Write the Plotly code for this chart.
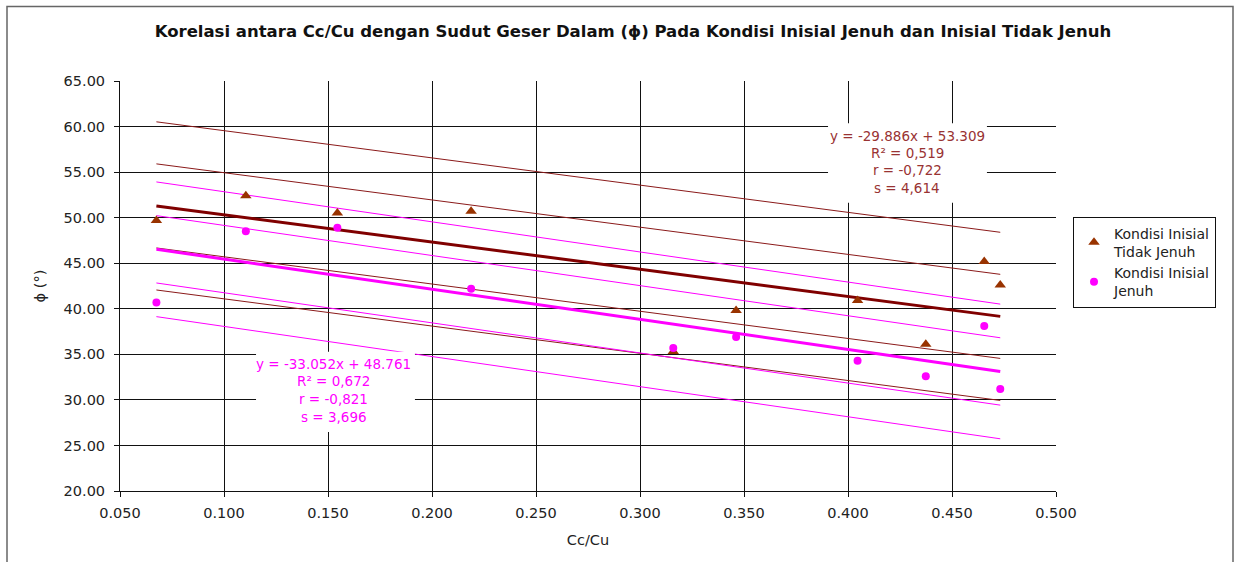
import plotly.graph_objects as go

# Cc/Cu values of the tested samples
cc_cu = [0.0675, 0.1105, 0.1545, 0.2188, 0.3160, 0.3462, 0.4046, 0.4374, 0.4655, 0.4732]

# Internal friction angle (degrees) for each initial condition
phi_tidak_jenuh = [49.7, 52.4, 50.5, 50.7, 35.3, 39.8, 40.9, 36.1, 45.2, 42.6]
phi_jenuh = [40.7, 48.5, 48.9, 42.2, 35.7, 36.9, 34.3, 32.6, 38.1, 31.2]

# Regression results: slope, intercept, R², r, standard error
fit_tidak_jenuh = dict(a=-29.886, b=53.309, r2="0,519", r="-0,722", s=4.614, s_txt="4,614")
fit_jenuh = dict(a=-33.052, b=48.761, r2="0,672", r="-0,821", s=3.696, s_txt="3,696")

x_ticks = [0.05, 0.10, 0.15, 0.20, 0.25, 0.30, 0.35, 0.40, 0.45, 0.50]
y_ticks = [20, 25, 30, 35, 40, 45, 50, 55, 60, 65]

BROWN_MARK = "#993300"
BROWN_LINE = "#800000"
BROWN_BAND = "#8B1A1A"
BROWN_TEXT = "#993333"
PINK = "#FF00FF"
FONT = "DejaVu Sans, Verdana, sans-serif"

x_lo, x_hi = min(cc_cu), max(cc_cu)

fig = go.Figure()


def add_fit(fit, main_color, band_color):
    # regression line with bands at ±1s and ±2s
    for k in (2, 1, -1, -2):
        off = k * fit["s"]
        fig.add_trace(go.Scatter(
            x=[x_lo, x_hi],
            y=[fit["a"] * x_lo + fit["b"] + off, fit["a"] * x_hi + fit["b"] + off],
            mode="lines", line=dict(color=band_color, width=1),
            showlegend=False, hoverinfo="skip"))
    fig.add_trace(go.Scatter(
        x=[x_lo, x_hi],
        y=[fit["a"] * x_lo + fit["b"], fit["a"] * x_hi + fit["b"]],
        mode="lines", line=dict(color=main_color, width=3),
        showlegend=False, hoverinfo="skip"))


add_fit(fit_tidak_jenuh, BROWN_LINE, BROWN_BAND)
add_fit(fit_jenuh, PINK, PINK)

fig.add_trace(go.Scatter(
    x=cc_cu, y=phi_tidak_jenuh, mode="markers",
    name="Kondisi Inisial<br>Tidak Jenuh",
    marker=dict(symbol="triangle-up", size=10, color=BROWN_MARK)))
fig.add_trace(go.Scatter(
    x=cc_cu, y=phi_jenuh, mode="markers",
    name="Kondisi Inisial<br>Jenuh",
    marker=dict(symbol="circle", size=8, color=PINK)))


def fit_lines(fit):
    sign = "+" if fit["b"] >= 0 else "-"
    return [f"y = {fit['a']:.3f}x {sign} {abs(fit['b']):.3f}",
            f"R² = {fit['r2']}", f"r = {fit['r']}", f"s = {fit['s_txt']}"]


def add_label_box(fit, color, box_x, box_y, text_x, text_ys):
    # white box hiding grid and lines behind the regression summary
    fig.add_shape(type="rect", xref="x", yref="y",
                  x0=box_x[0], x1=box_x[1], y0=box_y[0], y1=box_y[1],
                  fillcolor="white", line=dict(width=0), layer="above")
    for line, ty in zip(fit_lines(fit), text_ys):
        fig.add_annotation(x=text_x, y=ty, xref="x", yref="y", text=line,
                           showarrow=False, font=dict(family=FONT, size=13.5, color=color))


add_label_box(fit_tidak_jenuh, BROWN_TEXT, (0.3904, 0.4668), (51.65, 60.35),
              0.4284, [59.01, 57.11, 55.20, 53.30])
add_label_box(fit_jenuh, PINK, (0.1154, 0.1918), (26.48, 35.27),
              0.1527, [33.92, 32.09, 30.08, 28.16])

# outer chart frame
fig.add_shape(type="rect", xref="paper", yref="paper",
              x0=(7 - 120) / 936, x1=(1233 - 120) / 936,
              y0=-0.25, y1=(491 - 7) / 409.5,
              line=dict(color="#666666", width=1.5), layer="below")

axis_font = dict(family=FONT, size=14.5, color="#222222")

fig.update_layout(
    width=1235, height=562,
    margin=dict(l=120, r=179, t=81, b=71),
    paper_bgcolor="white", plot_bgcolor="white",
    title=dict(text="<b>Korelasi antara Cc/Cu dengan Sudut Geser Dalam (ϕ) Pada Kondisi Inisial Jenuh dan Inisial Tidak Jenuh</b>",
               x=0.5125, xanchor="center", y=0.945, yanchor="middle",
               font=dict(family=FONT, size=16.5, color="#111111")),
    font=axis_font,
    xaxis=dict(range=[0.05, 0.5], tickvals=x_ticks, tickformat=".3f",
               showgrid=True, gridcolor="#111111", gridwidth=1,
               showline=True, linecolor="#111111", linewidth=1,
               ticks="outside", ticklen=5, tickcolor="#111111",
               ticklabelstandoff=4,
               zeroline=False, tickfont=axis_font,
               title=dict(text="Cc/Cu", font=axis_font, standoff=14)),
    yaxis=dict(range=[20, 65], tickvals=y_ticks, tickformat=".2f",
               showgrid=True, gridcolor="#111111", gridwidth=1,
               showline=True, linecolor="#111111", linewidth=1,
               ticks="outside", ticklen=5, tickcolor="#111111",
               ticklabelstandoff=6,
               zeroline=False, tickfont=axis_font,
               title=dict(text="ϕ (°)", font=axis_font, standoff=14)),
    legend=dict(x=(1073 - 120) / 936, y=(491 - 217) / 409.5, xanchor="left", yanchor="top",
                bordercolor="#111111", borderwidth=1, bgcolor="white",
                font=dict(family=FONT, size=14, color="#222222"),
                tracegroupgap=2, itemwidth=30),
    showlegend=True,
)

fig.write_html("out.html")
